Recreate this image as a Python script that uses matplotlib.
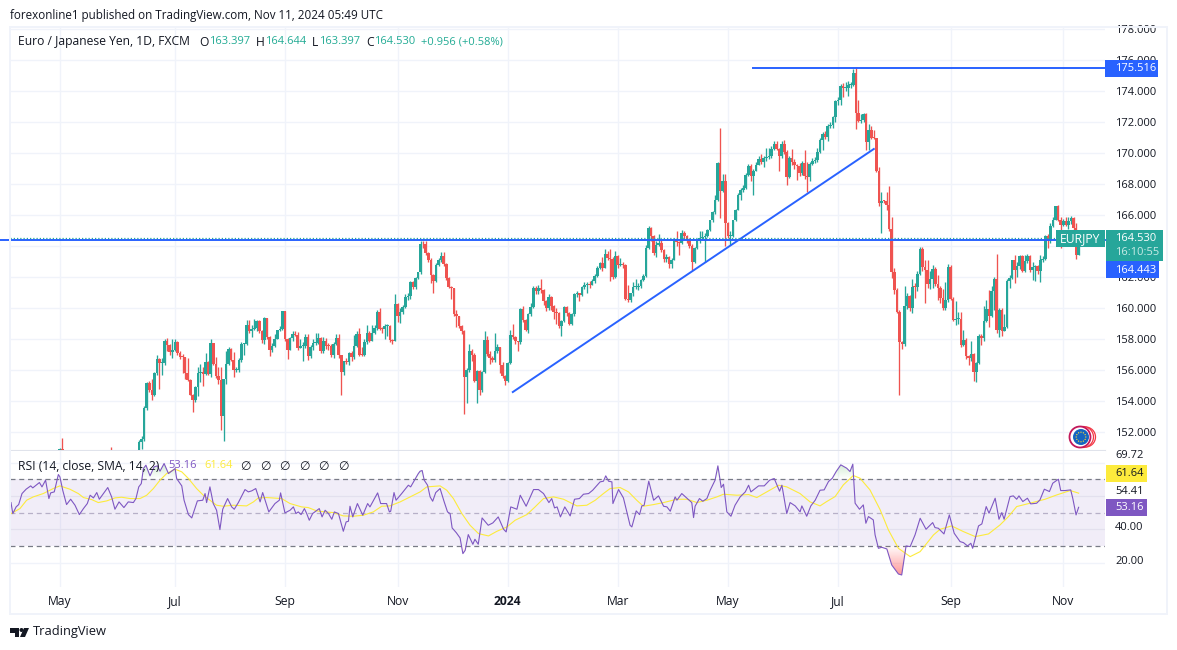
import numpy as np
import matplotlib
matplotlib.use("Agg")
import matplotlib.pyplot as plt
from matplotlib.patches import Rectangle, Ellipse, Polygon
from matplotlib.path import Path

plt.rcParams['font.family'] = ['Open Sans', 'DejaVu Sans']

W, H = 1177, 650
FIRST_BAR = 19

# Daily closes, one per bar (bars 19-49 sit under the pane edge)
closes = [
    150.9,
    149.9,149.2,148.5,147.9,148.2,147.6,147.1,147.5,147.3,147.9,
    148.2,149.2,149.9,150.2,149.8,150.1,149.5,149.6,150.6,149.9,
    149.5,149.6,149.9,149.8,149.4,149.6,149.8,150.1,150.3,150.4,
    151.33,151.55,153.55,155.16,154.69,154.37,155.81,156.73,156.43,156.47,
    157.89,157.63,157.14,157.31,157.81,157.08,156.84,156.82,155.81,155.38,
    154.41,154.04,154.88,155.81,155.85,155.76,156.49,155.76,157.74,156.41,
    155.59,155.33,153.01,155.42,156.39,157.38,156.67,155.98,156.02,156.67,
    157.68,157.70,158.92,158.49,158.67,158.69,159.18,158.54,157.91,159.35,
    158.13,157.27,157.57,158.02,158.56,158.67,159.78,158.0,157.31,158.06,
    158.34,158.28,157.42,157.57,157.57,158.13,156.88,157.48,157.74,157.75,
    158.06,157.23,157.89,157.57,157.53,156.99,157.68,158.09,156.95,155.85,
    156.56,156.54,157.10,156.84,157.57,158.34,156.99,156.98,157.81,158.39,
    157.89,158.39,158.71,159.74,158.67,158.65,158.82,158.84,157.96,157.90,
    160.28,159.46,159.72,160.06,160.71,160.75,161.66,161.35,161.94,162.30,
    164.13,164.1,163.55,163.12,162.15,161.76,162.80,163.08,163.38,162.86,
    161.96,161.35,161.29,159.63,159.46,158.82,158.54,155.53,156.02,157.25,
    156.99,155.31,155.91,154.73,155.87,157.96,157.03,156.77,156.62,157.25,
    157.46,156.34,155.59,155.27,156.45,158.28,158.11,157.85,157.79,159.94,
    159.25,158.56,159.61,160.04,161.29,161.08,161.29,161.14,160.43,160.0,
    160.69,160.11,159.72,159.68,158.86,159.14,160.06,159.68,158.99,159.63,
    160.92,160.95,160.86,161.33,161.51,161.55,161.48,161.76,162.04,162.58,
    162.90,162.58,163.48,163.23,163.16,161.98,163.33,162.79,162.86,162.75,
    160.60,160.49,160.97,161.33,161.35,161.40,161.78,162.09,163.87,165.16,
    164.67,163.55,164.09,164.19,163.76,163.16,163.29,162.84,163.12,164.45,
    164.24,164.19,164.84,164.62,164.41,163.98,162.95,163.87,164.30,164.52,
    164.58,164.67,165.01,165.66,166.19,167.0,169.35,167.53,168.21,165.48,
    164.62,164.67,165.66,166.34,167.31,167.59,167.74,168.60,169.18,168.49,
    168.86,169.25,169.63,169.42,169.68,169.72,169.78,170.26,170.60,170.26,
    169.78,170.60,170.05,168.45,169.68,169.42,169.20,169.18,168.71,169.35,
    168.49,168.45,169.31,169.48,169.53,170.06,170.86,171.25,171.03,171.72,
    171.83,172.32,173.35,173.40,174.30,174.19,174.20,174.41,174.41,175.16,
    172.58,172.09,172.15,172.52,170.71,171.46,170.97,170.96,168.82,166.77,
    166.92,166.88,166.62,165.10,162.30,161.18,159.72,157.79,157.68,160.15,
    160.80,160.0,161.35,161.34,162.21,163.81,162.65,162.43,161.57,161.87,
    162.52,161.55,161.29,160.65,160.0,160.54,162.65,160.58,159.25,159.29,
    159.3,157.63,157.96,156.88,156.77,157.05,155.85,156.45,158.22,158.06,
    159.18,159.96,159.46,161.08,161.87,158.6,159.89,158.49,158.77,161.72,
    161.94,163.08,162.47,162.73,163.33,162.37,163.01,163.33,162.43,162.65,
    162.69,162.37,163.12,163.16,164.62,164.30,165.31,165.70,166.56,165.70,
    165.38,165.59,165.38,165.59,165.81,165.16,163.40,164.53,
]
highs = [
    151.0,
    151.6,149.9,149.3,148.6,148.4,148.3,147.7,147.7,147.6,148.1,
    148.4,149.4,150.1,150.4,150.3,150.3,150.2,149.8,150.7,151.03,
    149.9,149.8,150.1,150.0,149.9,149.8,150.0,150.3,150.5,150.6,
    151.5,151.75,153.7,155.2,155.3,155.45,155.85,156.95,156.8,156.75,
    158.0,158.05,157.7,158.0,158.0,157.9,157.2,157.05,156.85,156.75,
    155.4,154.45,155.0,156.2,156.4,156.2,157.1,156.6,158.0,157.75,
    156.85,156.2,156.2,155.45,157.2,157.5,157.4,157.15,156.2,156.75,
    157.8,157.75,159.2,159.2,158.9,159.3,159.25,159.2,158.6,159.45,
    159.35,158.2,157.75,158.3,158.6,158.85,159.8,159.8,158.05,158.1,
    158.5,158.5,158.45,158.0,157.8,158.3,158.35,157.6,158.0,158.4,
    158.4,158.1,158.1,158.05,157.75,157.65,157.8,158.35,158.3,157.0,
    156.6,156.75,157.15,157.2,158.25,158.5,158.7,157.5,158.0,158.9,
    158.5,158.9,158.9,159.9,160.0,158.8,159.0,158.95,158.9,158.0,
    160.9,160.3,160.0,160.2,160.9,161.0,161.75,161.75,162.0,162.35,
    164.3,164.3,164.3,163.6,163.2,162.2,162.9,163.2,163.6,163.6,
    162.9,162.0,161.45,161.3,159.9,159.5,158.9,158.55,156.1,157.7,
    157.35,157.1,156.0,156.0,155.95,158.5,158.2,157.2,156.9,158.4,
    157.7,157.5,156.5,155.7,156.5,158.6,159.0,158.2,157.9,160.0,
    160.15,159.3,159.7,160.3,161.4,161.4,161.5,161.85,161.2,160.5,
    160.9,160.75,160.2,160.0,159.75,159.25,160.15,160.15,159.75,159.7,
    161.0,161.1,161.0,161.45,161.65,161.7,161.75,161.9,162.2,162.7,
    163.0,163.3,163.8,163.7,163.8,163.3,163.7,163.4,163.2,163.0,
    162.85,161.5,161.0,161.7,161.9,161.6,161.85,162.2,164.05,165.3,
    165.25,164.7,164.3,164.75,164.4,163.8,163.5,163.35,163.2,164.5,
    165.0,164.3,165.05,164.95,164.7,164.5,164.1,163.95,164.45,164.95,
    165.0,164.85,165.1,165.7,166.25,167.3,169.45,171.6,168.65,168.65,
    165.55,164.95,165.7,166.4,167.4,167.75,167.95,168.7,169.3,169.3,
    169.0,169.4,169.8,169.95,169.8,170.3,170.35,170.45,170.75,170.75,
    170.3,170.75,170.85,170.2,169.8,170.25,169.6,169.3,169.35,169.5,
    170.2,169.4,169.45,169.7,169.75,170.3,171.0,171.35,171.4,171.85,
    172.0,172.4,173.45,173.6,174.45,174.5,174.6,174.65,174.55,175.4,
    175.52,173.4,172.5,172.6,172.55,171.9,171.75,171.5,171.0,169.1,
    167.5,167.0,167.5,167.9,165.9,162.6,161.3,159.9,157.9,161.4,
    161.0,160.85,161.9,161.6,162.4,163.95,163.95,163.1,163.1,162.4,
    162.75,162.65,162.1,161.4,161.2,161.7,162.85,162.8,160.7,160.45,
    159.75,159.75,158.6,158.05,157.0,157.9,157.1,156.5,158.3,158.3,
    160.1,160.5,161.15,161.4,162.0,163.5,160.0,160.0,159.6,161.85,
    162.1,163.1,163.4,163.0,163.45,163.45,163.4,163.5,163.4,162.95,
    162.75,162.75,163.4,163.35,164.7,164.75,165.5,165.85,166.6,166.65,
    165.9,165.75,165.9,165.85,165.95,165.85,165.5,164.644,
]
lows = [
    150.2,
    149.7,149.0,148.3,147.7,147.8,147.4,146.9,147.0,147.1,147.2,
    147.7,148.0,149.0,149.7,149.6,149.6,149.3,149.3,149.4,149.7,
    149.3,149.3,149.4,149.6,149.2,149.2,149.4,149.6,149.9,150.1,
    150.8,150.9,151.4,153.4,154.6,154.05,154.3,155.7,154.78,155.7,
    156.3,157.2,157.0,156.8,157.2,157.0,156.7,155.8,155.4,155.3,
    154.4,153.3,153.95,154.3,155.2,155.0,155.7,155.7,155.55,156.3,
    155.5,155.1,152.15,151.4,155.1,156.3,156.6,155.55,155.9,155.85,
    156.5,157.0,157.6,158.4,158.15,158.6,158.5,158.4,157.75,157.7,
    158.0,156.9,157.15,157.5,158.0,158.5,158.6,157.9,156.7,157.3,
    157.9,158.2,157.3,157.4,156.6,157.4,156.65,156.8,157.3,157.6,
    157.7,157.1,157.1,157.35,157.3,156.85,156.8,157.6,156.8,154.4,
    155.7,156.4,156.3,156.55,156.7,157.5,156.9,156.9,156.9,157.7,
    157.8,157.85,158.3,158.6,158.6,158.4,158.0,158.2,157.8,157.7,
    157.85,159.1,159.05,159.6,160.0,160.5,160.6,161.2,161.2,161.85,
    162.2,163.9,163.4,163.0,161.6,161.0,161.7,162.7,163.0,162.7,
    161.8,161.3,160.6,159.5,158.75,158.7,158.3,153.15,153.9,155.9,
    156.6,155.2,153.85,154.4,154.6,155.8,156.9,156.4,156.5,156.5,
    157.1,155.8,155.5,155.05,155.2,156.4,158.0,157.7,157.2,157.7,
    159.1,158.5,158.4,159.5,160.0,160.9,160.9,161.0,160.2,159.8,
    159.9,159.9,159.3,159.0,158.7,158.2,159.1,159.5,158.9,158.9,
    159.5,160.7,160.45,160.75,161.2,161.0,161.3,161.6,161.6,162.0,
    162.5,162.4,162.55,163.1,161.75,161.9,161.95,162.6,162.7,162.6,
    160.5,160.4,160.4,160.8,161.2,161.15,161.3,161.75,162.0,163.8,
    164.3,163.4,163.3,164.0,163.6,162.95,162.95,162.6,162.55,163.1,
    164.0,163.45,164.1,164.4,164.2,163.85,162.45,162.9,163.8,164.2,
    164.4,162.95,164.55,164.95,165.55,166.05,166.9,165.8,167.5,164.0,
    164.5,164.05,164.55,165.6,166.3,167.0,167.5,167.65,168.5,168.2,
    167.3,168.85,169.2,169.3,169.1,169.5,169.6,169.7,170.2,170.2,
    168.85,169.7,169.95,167.95,168.4,169.2,169.0,168.25,168.5,168.6,
    168.3,167.5,168.2,169.2,169.35,169.45,170.0,170.2,170.9,170.75,
    171.6,171.6,172.0,173.1,173.1,173.6,174.0,173.65,174.2,174.3,
    171.55,172.0,171.95,172.0,170.2,170.2,170.9,170.9,168.75,166.6,
    164.85,166.75,166.3,165.0,161.95,160.9,159.7,154.4,157.35,157.55,
    159.95,159.8,159.7,160.65,161.1,162.1,162.4,160.35,161.3,161.2,
    161.3,161.4,160.5,160.3,159.85,159.85,160.4,160.5,159.15,158.9,
    158.95,157.5,157.55,156.7,156.3,156.55,155.3,155.2,156.4,157.6,
    157.9,159.1,158.75,159.4,159.9,158.4,158.1,158.2,158.5,158.7,
    161.3,161.9,161.6,162.0,162.5,162.3,162.3,162.9,162.35,161.8,
    161.75,162.2,161.7,163.0,163.1,163.85,164.2,165.2,165.65,165.6,
    163.9,165.3,165.3,165.1,165.4,164.9,163.18,163.397,
]

# RSI line, turning points as (bar, value)
rsi_bars = [
    0,.7,2,3,4.3,5.9,7.7,8.5,9.8,11.1,12.1,13.5,14.8,15.5,16.9,18.5,19.1,20.2,21.7,23.3,25,26.7,28.3,29.8,30.9,
    32.2,33.5,34.5,36.1,37.8,39.3,40.6,42.2,44.1,45.8,47.8,48.8,49.9,50.9,51.7,52.7,54.3,55.9,57.2,58.2,59.8,61.5,
    64.1,64.7,66.7,67.6,69.3,70.6,72.8,74.9,75.8,76.4,77.7,79,80.3,81.6,82.7,84.6,86.2,87.2,88.8,91.4,92.7,94,95.6,
    97.3,98.3,100.7,103.1,104.8,105.3,107,109,110.3,111.3,112.2,113.3,114.6,115.5,116.5,117.8,120.4,121.5,122.7,124,
    125.3,126.3,127.9,129.8,130.9,131.8,132.4,133.5,135.3,137.4,139.3,140.2,143.2,144.4,146.7,147.8,148.3,149.6,
    150.4,152.6,155.2,156.1,159.1,159.8,160.6,161.4,162.7,163.7,164.7,165.9,167.6,169.2,170.5,171.5,172.3,173.9,
    175.4,176.5,177.4,178.6,180.4,181.2,182.5,184,186.4,188.2,190.3,192.4,193.4,195.2,197.6,198.9,201.2,204.1,206,
    208,210.1,211.2,212.3,213.3,214.6,216.3,218.4,220.1,222,223.6,225.6,227.2,230.1,231.4,232.3,233.4,234.7,235.1,
    237.3,239.2,241.8,242.5,244.2,245.5,246.4,247.3,249.1,251,252.9,254.9,256.2,257.5,259.4,260.1,262,265.9,266.6,
    267.2,268.9,270.2,271.8,273.1,275,276.1,277.4,278.3,279.6,281.2,282.8,284.8,286.8,288.1,289,292,294.2,296.3,
    298.1,300.2,301.1,303,304.3,306.3,308.2,308.9,310.8,312.4,314.1,316,317.6,319.3,320.8,322.3,324.1,326.4,327.7,
    328.8,329.7,331.4,332.9,333.9,334.9,336.8,337.5,338.8,340.1,342.1,344,346.6,347.9,349.6,351.2,353.1,355.1,357.4,
    360,360.9,362.2,364.4,366.5,368.4,370.7,372,373.6,374.9,375.6,377.9,379.2,380.9,382,384.4,385.9,387,387.9,390.2,
    391.5,392.8,393.7,395.2,397,398.3,400.6,401.9,403.6,405.6,406.9,409.1,410,411.7,413.9,414.7,416,417,
]
rsi_values = [
    56,49.4,53.4,54.8,61.4,64,66,64.8,66.4,68,65.4,69.4,58.4,61.8,62.4,72.8,71.4,63.4,54.8,58,54.4,48.8,52.4,55.4,60.4,
    58.8,62,58,61.4,65,59.4,52,56.4,53,56.4,56,58.4,65.4,67.4,76.4,78.4,72,77.4,78,74.8,79.4,73.4,
    76.4,70.4,66,57.4,48.8,46.8,57,57.4,61.4,56,65.4,55.4,51.4,39.8,52,58.4,53.4,52,56,63.8,62.4,63,64.4,
    56.4,62,50.4,55.4,57.4,61.8,49.8,51.4,53.4,49.4,50.4,48.8,52.4,49.4,45.4,49.4,52.4,47.4,51.4,49.4,
    46,50.4,49.4,38.8,44.4,44.8,53.8,47.4,55.4,48.4,55.4,53.4,61.8,55.4,55.4,50.4,50.8,62,
    57.4,61.4,66.4,65.4,73.4,74.8,75.2,69.4,66.4,59.4,56.8,62,64.4,56.4,50.4,49.4,40.8,38,
    34.8,25.4,27.4,36.8,31,34,31,46.8,42.4,43.8,47.4,40,38.4,53.4,52,60.4,53.8,63.8,63.8,
    61.4,56,58.4,52.8,53.4,47.4,53.4,48,58,58.4,61,61.4,63.4,68.4,68.8,72,68.8,68.4,55.4,
    63.8,58.8,42.4,41.4,51,48.8,54,54.4,68.8,57.4,60,53.8,53.4,50.8,59.4,57.4,61.4,56,47,
    53.8,58.4,56.8,58.4,63.4,69.4,78,65,67,50.4,47.8,54.4,59.4,62.4,66.4,62.4,66,66,69.4,
    70.4,62.8,66.4,49.4,56,54,50.4,54,47.8,54,57.4,63.4,63.6,68.6,70.6,74.6,78.6,76.6,74.6,
    79,55.6,52,54.6,43.6,47.6,45.6,36.6,28.6,29.2,28.2,18.6,13.2,12.6,30,29.6,36.6,46.6,40,
    44,41,40.6,37.2,48.6,37.6,32.6,32,30,31.6,28.6,42,43.2,53.6,49.6,58.6,46,50,46,59.6,
    60,58,60,56.6,58.6,55.2,55.6,57.6,64,62.6,67.6,70,63.2,63.2,63.6,58.6,48.6,53.16,
]

# RSI moving average
sma_bars = [
    0,3.5,6.1,8.7,12.6,16.5,19.1,23,26.3,28.3,31.5,34.1,37.4,40.6,43.2,46.5,50.4,53,55.6,58.2,60.8,64.1,66.7,69.3,72.5,
    75.1,77.7,80.3,82.9,86.8,92,94.7,96.6,99.9,105.7,109,113.5,116.1,119.4,122.7,125.9,129.8,133.7,137.6,141.5,144.8,
    148,152,155.9,159.8,162.4,167.6,170.2,172.8,176.1,179.3,182.6,186.5,189.8,193.7,196.9,201.5,204.7,208,211.9,215.8,
    221,224.9,228.2,231.4,234,237.9,241.2,244.4,247,251,254.9,260.1,264,267.9,271.8,275.7,278.3,283.5,288.1,291.3,
    295.2,299.8,303,308.2,312.1,316,318.6,321.9,325.1,329,331.6,335.5,339.5,342.7,346.6,351.2,355.1,360.3,362.9,367.4,
    372,376.6,381.8,386.3,389.6,392.8,398,403.9,408.5,413.7,417,
]
sma_values = [
    49.4,52.4,57.4,59.4,61.4,64.4,66,64,61.4,59,57.8,56,57,58.8,59.2,58.4,58.4,60.4,64.4,69.4,73.4,76,74.4,70.4,64.4,
    60.4,57.4,54.4,53.8,54.4,54,56.4,58.8,59,58.4,55.4,53.4,53,51,50.4,50,48,47.8,48.4,50.4,53.8,
    54,56.4,59.4,62.4,65.4,66,63.4,58.4,49.4,42.4,37.4,36,38.8,41.4,45.4,48.8,53.4,58.4,59.4,58,
    54,54.4,57.4,61.4,64.4,65,62.4,57.4,53.8,54.8,56,58,58,56,57.4,59.4,61,60.4,60.8,59,
    62.4,66.4,65.4,61.4,56.4,54,56.6,59.6,66.6,72.2,70.6,63.6,51.6,39.6,28.6,23.6,26.6,36.6,40,42,
    38.6,35.6,37.2,42.6,47.6,53.6,55.6,58,60.6,63.2,61.64,
]

# 164.000 is left out: the reference has it fully under the last-price badge
price_ticks = [178, 176, 174, 172, 170, 168, 166, 162, 160, 158, 156, 154, 152]
grid_prices = price_ticks + [164]
month_bars = [19, 64, 107, 151, 194, 237, 280, 323, 367, 411]
month_labels = ["May", "Jul", "Sep", "Nov", "2024", "Mar", "May", "Jul", "Sep", "Nov"]
rsi_grid = [20, 40, 60, 80]
# labels printed on the RSI scale, with their row in pixels
rsi_scale_labels = ["69.72", "54.41", "40.00", "20.00"]
rsi_scale_rows = [456, 491, 528, 562]

last_close = 164.53
hline_level = 164.41
peak_level = 175.516
peak_start_bar = 290
trend_bars = [196, 337]
trend_prices = [154.58, 170.26]

GREEN = "#26a69a"
RED = "#ef5350"
BLUE = "#2962ff"
PURPLE = "#7e57c2"
YELLOW = "#fdeb3c"
GRID = "#f0f3fa"
TEXT = "#131722"
NUM = 8.0


def fx(x):
    return x / W


def fy(y):
    return 1 - y / H


def label(x, y, s, **kw):
    kw.setdefault("color", TEXT)
    kw.setdefault("fontsize", 8.7)
    kw.setdefault("va", "center")
    return fig.text(fx(x), fy(y), s, **kw)


def badge(x0, y0, x1, y1, color):
    fig.add_artist(Rectangle((fx(x0), fy(y1)), (x1 - x0) / W, (y1 - y0) / H,
                             transform=fig.transFigure, color=color, lw=0, zorder=3))


fig = plt.figure(figsize=(W / 100, H / 100), dpi=100)
ax = fig.add_axes([fx(10), fy(450), 1095 / W, 423 / H])
ax_rsi = fig.add_axes([fx(10), fy(587), 1095 / W, 136 / H], sharex=ax)

# Candles
bars = np.arange(FIRST_BAR, FIRST_BAR + len(closes))
c = np.array(closes)
o = np.array([closes[0] - 0.1] + closes[:-1])
hi = np.maximum(np.array(highs), np.maximum(o, c))
lo = np.minimum(np.array(lows), np.minimum(o, c))
colors = np.where(c >= o, GREEN, RED)
ax.vlines(bars, lo, hi, colors=colors, lw=0.95, zorder=3)
body = np.maximum(np.abs(c - o), 0.06)
ax.bar(bars, body, bottom=np.minimum(o, c), width=1.02, color=colors, lw=0, zorder=3)

ax.plot([-0.39 - 3.9, 427.3], [hline_level, hline_level], color=BLUE, lw=1.4, zorder=5, clip_on=False)
ax.axhline(last_close, color=GREEN, ls=(0, (1, 1.6)), lw=0.9, zorder=6)
ax.plot([peak_start_bar, 427.3], [peak_level, peak_level], color=BLUE, lw=1.4, zorder=5)
ax.plot(trend_bars, trend_prices, color=BLUE, lw=1.4, zorder=5)

ax.set_xlim(-0.39, 427.3)
ax.set_ylim(150.84, 178.13)
ax.set_yticks(grid_prices)
ax.yaxis.tick_right()
ax.tick_params(axis="y", length=0, pad=7, labelsize=NUM, labelcolor=TEXT)
ax.set_yticklabels(["%.3f" % p if p in price_ticks else "" for p in grid_prices])
ax.tick_params(axis="x", length=0, labelbottom=False)
ax.grid(True, color=GRID, lw=1.0)
ax.set_axisbelow(True)
for s in ["left", "right", "top"]:
    ax.spines[s].set_visible(False)
ax.spines["bottom"].set_color("#e0e3eb")

# RSI pane
rb = np.array(rsi_bars)
rv = np.array(rsi_values)
ax_rsi.axhspan(30, 70, color=PURPLE, alpha=0.1, lw=0, zorder=1)
for g in rsi_grid:
    ax_rsi.axhline(g, color=GRID, lw=1.0, zorder=1.5)
ax_rsi.axhline(60, color="#e3e0ee", lw=0.9, zorder=1.6)
ax_rsi.axhline(40, color="#e3e0ee", lw=0.9, zorder=1.6)
ax_rsi.axhline(70, color="#787b86", ls=(0, (4, 3)), lw=0.9, zorder=2)
ax_rsi.axhline(30, color="#787b86", ls=(0, (4, 3)), lw=0.9, zorder=2)
ax_rsi.axhline(50, color="#b7b0c8", ls=(0, (4, 3)), lw=0.9, zorder=2)

# gradient fills where RSI leaves the band
grad_up = np.zeros((64, 2, 4))
grad_up[..., :3] = matplotlib.colors.to_rgb("#4caf50")
grad_up[..., 3] = np.linspace(0.28, 0.0, 64)[:, None]
area = ax_rsi.fill_between(rb, rv, 70, where=rv > 70, interpolate=True, color="none")
img = ax_rsi.imshow(grad_up, extent=[0, 430, 70, 80], aspect="auto", zorder=2.2, origin="upper")
img.set_clip_path(Path.make_compound_path(*area.get_paths()), area.get_transform())

grad_dn = np.zeros((64, 2, 4))
grad_dn[..., :3] = matplotlib.colors.to_rgb("#ff5252")
grad_dn[..., 3] = np.linspace(0.0, 0.62, 64)[:, None]
area = ax_rsi.fill_between(rb, rv, 30, where=rv < 30, interpolate=True, color="none")
img = ax_rsi.imshow(grad_dn, extent=[0, 430, 12, 30], aspect="auto", zorder=2.2, origin="upper")
img.set_clip_path(Path.make_compound_path(*area.get_paths()), area.get_transform())

ax_rsi.plot(sma_bars, sma_values, color=YELLOW, lw=0.8, zorder=3)
ax_rsi.plot(rb, rv, color=PURPLE, lw=0.8, zorder=4)

ax_rsi.set_xlim(-0.39, 427.3)
ax_rsi.set_ylim(5.4, 86.9)
ax_rsi.set_yticks([])
ax_rsi.set_xticks(month_bars)
ax_rsi.set_xticklabels(month_labels, fontsize=8.7, color=TEXT)
ax_rsi.get_xticklabels()[4].set_fontweight("bold")
ax_rsi.tick_params(axis="x", length=0, pad=6)
ax_rsi.grid(True, axis="x", color=GRID, lw=1.0)
ax_rsi.set_axisbelow(True)
for s in ax_rsi.spines.values():
    s.set_visible(False)

# Outer frame
for rect in [(10, 26, 1158, 2), (9, 26, 2, 589), (1166, 26, 2, 589), (9, 613, 1159, 2)]:
    fig.add_artist(Rectangle((fx(rect[0]), fy(rect[1] + rect[3])), rect[2] / W, rect[3] / H,
                             transform=fig.transFigure, color=GRID, lw=0, zorder=1))

# Header and legends
label(10, 15, "forexonline1 published on TradingView.com, Nov 11, 2024 05:49 UTC", fontsize=8.4)
label(18, 42, "Euro / Japanese Yen, 1D, FXCM")
for x, s in [(199, "O"), (256, "H"), (312, "L"), (366, "C")]:
    label(x, 42, s)
for x, s in [(209, "163.397"), (265, "164.644"), (319, "163.397"), (374, "164.530"), (421, "+0.956 (+0.58%)")]:
    label(x, 42, s, color="#22ab94", fontsize=NUM)

label(18, 466, "RSI (14, close, SMA, 14, 2)")
label(168, 466, "53.16", color=PURPLE, fontsize=NUM)
label(204, 466, "61.64", color=YELLOW, fontsize=NUM)
for x in [240, 260, 279, 299, 318, 338]:
    label(x, 466, "\u2205")

# Price scale badges
badge(1105, 60, 1158, 77, BLUE)
label(1115, 68.5, "175.516", color="white", zorder=4, fontsize=NUM)
badge(1056, 230, 1105, 247, GREEN)
label(1060, 238.5, "EURJPY", color="white", zorder=4)
badge(1106, 230, 1163, 261, GREEN)
label(1115, 238.5, "164.530", color="white", zorder=4, fontsize=NUM)
label(1115, 252.5, "16:10:55", color="#c9ebe6", zorder=4, fontsize=NUM)
badge(1106, 261, 1159, 278, BLUE)
label(1115, 270, "164.443", color="white", zorder=4, fontsize=NUM)

# RSI scale
for row, s in zip(rsi_scale_rows, rsi_scale_labels):
    label(1115, row, s, fontsize=NUM)
badge(1106, 465, 1147, 482, YELLOW)
label(1115, 473.5, "61.64", zorder=4, fontsize=NUM)
badge(1106, 499, 1147, 516, PURPLE)
label(1115, 507.5, "53.16", color="white", zorder=4, fontsize=NUM)

# EU flag marker
for cx, r, col, lw in [(1085.5, 10, "#f23645", 0.9), (1083, 10.5, "#f23645", 0.9), (1080, 10.5, "#c2185b", 1.3)]:
    fig.add_artist(Ellipse((fx(cx), fy(437)), 2 * r / W, 2 * r / H, transform=fig.transFigure,
                           fc="white", ec=col, lw=lw, zorder=2))
fig.add_artist(Ellipse((fx(1081), fy(437)), 16 / W, 16 / H, transform=fig.transFigure,
                       fc="#1565c0", ec="none", zorder=2.1))
for a in np.arange(12) * np.pi / 6:
    fig.add_artist(Ellipse((fx(1081 + 4.8 * np.cos(a)), fy(437 + 4.8 * np.sin(a))), 1.3 / W, 1.3 / H,
                           transform=fig.transFigure, fc="#fdd835", ec="none", zorder=2.2))

# TradingView logo
logo = [
    [(10, 628), (19, 628), (19, 637), (14.5, 637), (14.5, 632.5), (10, 632.5)],
    [(24, 628), (29, 628), (25, 637), (20, 637)],
]
for pts in logo:
    fig.add_artist(Polygon([(fx(x), fy(y)) for x, y in pts], transform=fig.transFigure, color="#131722", lw=0))
fig.add_artist(Ellipse((fx(21.5), fy(630)), 4 / W, 4 / H, transform=fig.transFigure, color="#131722", lw=0))
label(33, 632, "TradingView", fontsize=9.3)

fig.savefig("out.png", dpi=100)
